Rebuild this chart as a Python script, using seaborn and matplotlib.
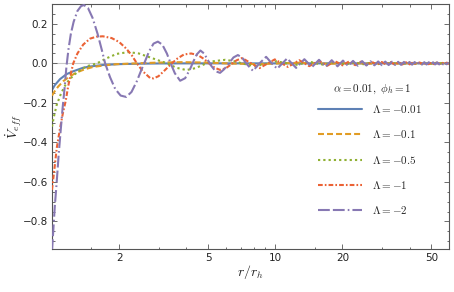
import numpy as np
import pandas as pd
import matplotlib
matplotlib.use("Agg")
import matplotlib.pyplot as plt
import seaborn as sns
from matplotlib.ticker import FixedLocator, FixedFormatter, NullFormatter

sns.set_theme(style="ticks")
plt.rcParams['font.family'] = ['DejaVu Sans']
plt.rcParams['mathtext.fontset'] = 'cm'
plt.rcParams['lines.scale_dashes'] = False

# ---------------------------------
# DATA
# ---------------------------------

lam_labels = [r'$\Lambda=-0.01$', r'$\Lambda=-0.1$', r'$\Lambda=-0.5$',
              r'$\Lambda=-1$', r'$\Lambda=-2$']

r_blue = [1.0, 1.03, 1.086, 1.16, 1.246, 1.38, 1.48, 1.7, 2.0, 2.5, 3.0, 4.0, 60.0]
v_blue = [-0.135, -0.11, -0.08, -0.055, -0.04, -0.022, -0.016, -0.008, -0.004,
          -0.0015, -0.0005, 0.0, 0.0]

r_orange = [1.0, 1.03, 1.067, 1.124, 1.2, 1.29, 1.4, 1.53, 1.75, 1.95, 2.4, 3.0,
            3.8, 5.0, 6.0, 8.3, 10.5, 12.8, 15.0, 17.3, 21.8, 26.3, 30.8, 35.3,
            39.8, 44.3, 48.8, 53.3, 57.8, 60.0]
v_orange = [-0.163, -0.14, -0.117, -0.09, -0.066, -0.046, -0.03, -0.018, -0.009,
            -0.004, 0.0, 0.004, 0.006, 0.004, 0.0, -0.004, 0.0, 0.003, 0.0,
            -0.0022, 0.0018, -0.0015, 0.0013, -0.0012, 0.0011, -0.001, 0.0009,
            -0.0008, 0.0008, 0.0]

r_green = [1.0, 1.02, 1.05, 1.1, 1.16, 1.25, 1.35, 1.45, 1.59, 1.75, 1.95, 2.2,
           2.45, 2.75, 3.0, 3.28, 3.6, 4.0, 4.4, 4.8, 5.3, 5.97, 6.6, 7.2, 8.0,
           8.8, 9.5, 10.1, 11.1, 12.2, 13.2, 14.3, 16.4, 18.5, 20.6, 22.7, 24.8,
           26.9, 29.0, 31.1, 33.2, 35.3, 37.4, 39.5, 41.6, 43.7, 45.8, 47.9, 50.0,
           52.1, 54.2, 56.3, 58.4, 60.0]
v_green = [-0.32, -0.27, -0.21, -0.15, -0.1, -0.06, -0.03, -0.013, 0.0, 0.025,
           0.048, 0.057, 0.05, 0.03, 0.015, 0.0, -0.022, -0.034, -0.024, -0.005,
           0.011, 0.018, 0.01, -0.002, -0.013, -0.006, 0.003, 0.0105, 0.002,
           -0.009, -0.001, 0.0077, -0.0067, 0.006, -0.0053, 0.0048, -0.0044, 0.004,
           -0.0037, 0.0035, -0.0033, 0.0031, -0.0029, 0.0028, -0.0026, 0.0025,
           -0.0024, 0.0023, -0.0022, 0.0021, -0.002, 0.002, -0.0019, 0.0018]

r_red = [1.0, 1.024, 1.05, 1.086, 1.12, 1.152, 1.18, 1.21, 1.245, 1.3, 1.38,
         1.48, 1.58, 1.69, 1.85, 2.0, 2.15, 2.28, 2.4, 2.55, 2.75, 2.85, 3.0, 3.2,
         3.44, 3.65, 3.9, 4.2, 4.5, 4.8, 5.05, 5.35, 5.66, 6.0, 6.35, 6.7, 7.1,
         8.5, 9.95, 11.4, 12.8, 14.2, 15.7, 17.1, 18.5, 20.0, 21.4, 22.8, 24.2,
         25.7, 27.1, 28.5, 30.0, 31.4, 32.8, 34.3, 35.7, 37.1, 38.5, 40.0, 41.4,
         42.8, 44.3, 45.7, 47.1, 48.6, 50.0, 51.4, 52.8, 54.3, 55.7, 57.1, 58.6,
         60.0]
v_red = [-0.64, -0.54, -0.43, -0.33, -0.25, -0.19, -0.12, -0.06, 0.0, 0.05,
         0.095, 0.125, 0.135, 0.137, 0.128, 0.108, 0.075, 0.04, 0.0, -0.04,
         -0.074, -0.076, -0.065, -0.035, 0.0, 0.025, 0.045, 0.05, 0.042, 0.022,
         0.0, -0.022, -0.033, -0.025, -0.005, 0.015, 0.027, -0.024, 0.02, -0.018,
         0.016, -0.014, 0.013, -0.012, 0.011, -0.01, 0.0095, -0.009, 0.0085,
         -0.008, 0.0075, -0.007, 0.0068, -0.0065, 0.0062, -0.006, 0.0057, -0.0055,
         0.0053, -0.0051, 0.0049, -0.0047, 0.0046, -0.0045, 0.0043, -0.0042,
         0.0041, -0.004, 0.0039, -0.0038, 0.0037, -0.0036, 0.0035, -0.0034]

r_purple = [1.0, 1.013, 1.03, 1.05, 1.07, 1.09, 1.115, 1.14, 1.16, 1.185, 1.215,
            1.25, 1.3, 1.35, 1.39, 1.45, 1.52, 1.6, 1.67, 1.73, 1.82, 1.92, 2.03,
            2.15, 2.27, 2.4, 2.52, 2.61, 2.72, 2.85, 2.98, 3.12, 3.27, 3.4, 3.55,
            3.75, 3.95, 4.15, 4.3, 4.45, 4.62, 4.8, 5.0, 5.15, 5.4, 5.66, 5.9,
            6.2, 6.5, 6.8, 7.1, 7.4, 7.95, 8.5, 9.1, 9.65, 10.2, 11.3, 12.4, 13.5,
            14.6, 15.7, 16.8, 17.9, 19.0, 20.1, 21.2, 22.3, 23.4, 24.5, 25.6, 26.7,
            27.8, 28.9, 30.0, 31.1, 32.2, 33.3, 34.4, 35.5, 36.6, 37.7, 38.8,
            39.9, 41.0, 42.1, 43.2, 44.3, 45.4, 46.5, 47.6, 48.7, 49.8, 50.9,
            52.0, 53.1, 54.2, 55.3, 56.4, 57.5, 58.6, 59.7]
v_purple = [-0.95, -0.85, -0.72, -0.6, -0.47, -0.36, -0.23, -0.12, -0.02, 0.07,
            0.15, 0.21, 0.265, 0.29, 0.295, 0.28, 0.23, 0.15, 0.07, 0.0, -0.07,
            -0.13, -0.163, -0.17, -0.145, -0.09, -0.03, 0.01, 0.06, 0.1, 0.11,
            0.095, 0.05, 0.0, -0.05, -0.088, -0.075, -0.03, 0.01, 0.045, 0.065,
            0.05, 0.015, -0.01, -0.04, -0.048, -0.03, 0.0, 0.03, 0.042, 0.03, 0.0,
            -0.038, 0.0, 0.033, 0.0, -0.027, 0.025, -0.023, 0.021, -0.019, 0.018,
            -0.017, 0.016, -0.015, 0.014, -0.013, 0.0125, -0.012, 0.0115, -0.011,
            0.0105, -0.01, 0.0097, -0.0093, 0.009, -0.0087, 0.0084, -0.0081,
            0.0079, -0.0077, 0.0074, -0.0072, 0.007, -0.0068, 0.0067, -0.0065,
            0.0063, -0.0062, 0.006, -0.0059, 0.0057, -0.0056, 0.0055, -0.0054,
            0.0053, -0.0052, 0.0051, -0.005, 0.0049, -0.0048, 0.0047]

colors = ["#5E81B5", "#E19C24", "#8FB032", "#EB6235", "#8778B3"]
styles = ["-", (0, (4.3, 2.2)), (0, (1.6, 2.2)), (0, (3.4, 1.5, 1.2, 1.5)),
          (0, (8.5, 2.2, 8.5, 2.2, 1.2, 2.2))]

series_r = [r_blue, r_orange, r_green, r_red, r_purple]
series_v = [v_blue, v_orange, v_green, v_red, v_purple]

# ---------------------------------
# PLOT
# ---------------------------------

fig = plt.figure(figsize=(4.54, 2.92), dpi=100)
ax = fig.add_axes([0.1145, 0.147, 0.8745, 0.839])

ax.axhline(0, color="#c8c8c8", lw=0.8, zorder=0)

for i in range(5):
    df = pd.DataFrame({"r": series_r[i], "V": series_v[i]})
    sns.lineplot(data=df, x="r", y="V", ax=ax, color=colors[i], lw=1.5,
                 linestyle=styles[i], label=lam_labels[i], zorder=2 + i,
                 estimator=None, sort=False)

ax.set_xscale("log")
ax.set_xlim(1, 60)
ax.set_ylim(-0.94, 0.3)

ax.xaxis.set_major_locator(FixedLocator([2, 5, 10, 20, 50]))
ax.xaxis.set_major_formatter(FixedFormatter(["2", "5", "10", "20", "50"]))
ax.xaxis.set_minor_locator(FixedLocator([1.5, 3, 4, 6, 7, 8, 9, 15, 30, 40]))
ax.xaxis.set_minor_formatter(NullFormatter())

yt = [-0.8, -0.6, -0.4, -0.2, 0.0, 0.2]
ax.yaxis.set_major_locator(FixedLocator(yt))
ax.yaxis.set_major_formatter(FixedFormatter(["\u22120.8", "\u22120.6", "\u22120.4",
                                             "\u22120.2", "0.0", "0.2"]))
ax.yaxis.set_minor_locator(FixedLocator(np.arange(-0.9, 0.31, 0.05)))

for s in ax.spines.values():
    s.set_color("#555555")
    s.set_linewidth(0.8)

ax.tick_params(which="both", direction="in", top=True, right=True,
               color="#555555", width=0.6, labelsize=7.5, labelcolor="#222222")
ax.tick_params(which="major", length=3.5, pad=3)
ax.tick_params(which="minor", length=1.8)

ax.set_xlabel(r"$r/r_h$", fontsize=10, color="#222222")
ax.set_ylabel(r"$\dot{V}_{eff}$", fontsize=10, color="#222222")
ax.xaxis.set_label_coords(0.5, -0.055)
ax.yaxis.set_label_coords(-0.07, 0.5)

leg = ax.legend(loc="upper left",
                bbox_to_anchor=(318 / 454, 1 - 103 / 292), bbox_transform=fig.transFigure,
                frameon=False, fontsize=8, handlelength=4.0,
                handletextpad=0.9, labelspacing=1.2, borderpad=0, borderaxespad=0)
fig.text(372 / 454, 1 - 89 / 292, r"$\alpha=0.01,\ \phi_h=1$", fontsize=8,
         ha="center", va="center", color="#222222")

fig.savefig("out.png", dpi=100)
